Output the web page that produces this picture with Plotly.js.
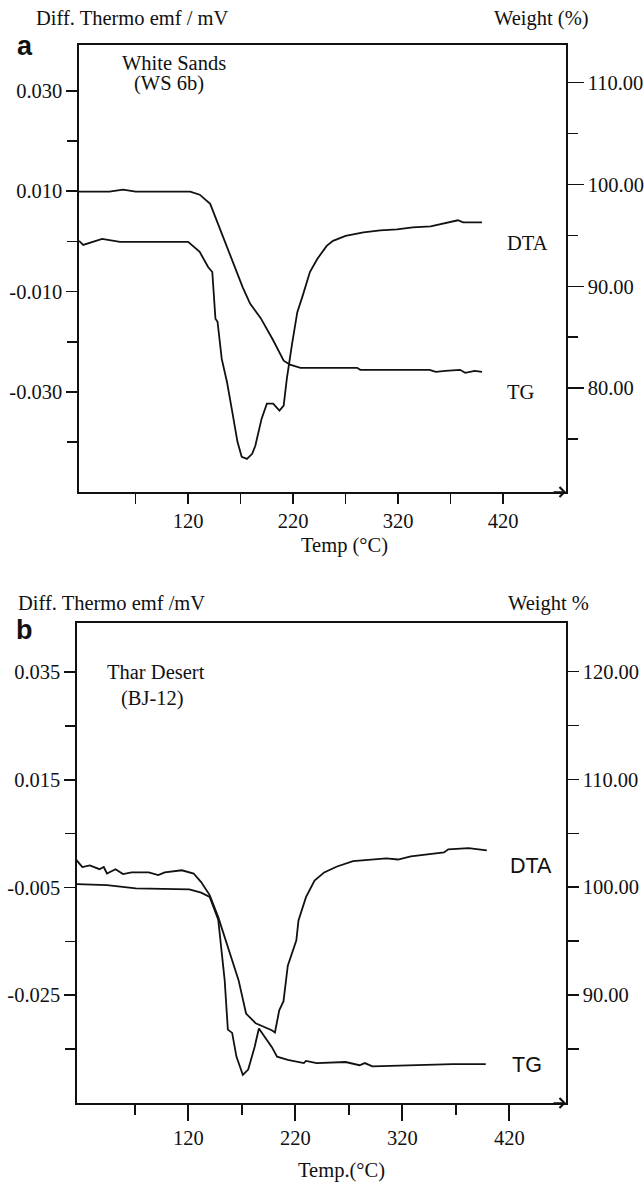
<!DOCTYPE html>
<html>
<head>
<meta charset="utf-8">
<script src="https://cdn.plot.ly/plotly-3.0.1.min.js"></script>
<style>
html,body{margin:0;padding:0;background:#fff;}
#chart{width:644px;height:1182px;}
</style>
</head>
<body>
<div id="chart"></div>
<script>
// ---------- Panel a : White Sands (WS 6b) ----------
var aDtaTemp = [16,20,38,55,120,131,139,143,146,148,152,157,162,167,171,176,181,184,190,195,201,207,211,214,219,224,229,236,243,252,258,270,287,303,319,334,351,367,377,382,400];
var aDta     = [0.0001,-0.0007,0.0005,-0.0001,-0.0001,-0.0021,-0.0051,-0.0061,-0.0154,-0.0160,-0.0234,-0.0280,-0.0339,-0.0399,-0.0429,-0.0433,-0.0423,-0.0407,-0.0353,-0.0323,-0.0323,-0.0337,-0.0327,-0.0274,-0.0204,-0.0141,-0.0109,-0.0061,-0.0035,-0.0009,0.0001,0.0011,0.0018,0.0022,0.0024,0.0028,0.0030,0.0038,0.0042,0.0038,0.0038];
var aTgTemp  = [16,45,58,70,122,131,141,146,153,163,172,179,189,201,211,217,227,281,284,350,356,365,379,384,393,400];
var aTg      = [99.3,99.3,99.5,99.3,99.3,99.0,98.1,96.8,94.8,92.2,89.9,88.3,86.9,84.7,82.7,82.3,82.0,82.0,81.8,81.8,81.6,81.7,81.8,81.5,81.7,81.6];

// ---------- Panel b : Thar Desert (BJ-12) ----------
var bDtaTemp = [15,21,28,37,41,44,52,59,67,83,92,98,114,125,132,140,148,159,167,174,183,198,201,205,209,213,221,223,230,238,247,259,274,305,316,328,359,363,382,399];
var bDta     = [0.0002,-0.0012,-0.0009,-0.0016,-0.0012,-0.0024,-0.0016,-0.0025,-0.0022,-0.0022,-0.0027,-0.0022,-0.0018,-0.0024,-0.0040,-0.0064,-0.0105,-0.0172,-0.0222,-0.0284,-0.0302,-0.0315,-0.0319,-0.0278,-0.0261,-0.0195,-0.0148,-0.0111,-0.0068,-0.0037,-0.0022,-0.0011,-0.0001,0.0004,0.0002,0.0008,0.0015,0.0021,0.0023,0.0019];
var bTgTemp  = [15,44,71,101,121,132,140,148,152,154,157,161,165,171,176,182,186,192,198,203,213,228,230,240,267,280,285,292,328,367,398];
var bTg      = [100.3,100.2,99.9,99.8,99.8,99.5,99.1,97.0,93.0,91.4,86.8,86.5,84.3,82.6,83.1,85.2,86.9,86.1,85.2,84.3,84.0,83.7,83.9,83.7,83.8,83.5,83.7,83.4,83.5,83.6,83.6];

// ---------- Tick labels ----------
var xTickVals = [120,220,320,420];
var xTickText = ['120','220','320','420'];
var xMinorVals = [70,170,270,370];

var aLeftVals = [0.03,0.01,-0.01,-0.03];
var aLeftText = ['0.030','0.010','-0.010','-0.030'];
var aLeftMinor = [0.02,0.0,-0.02,-0.04];
var aRightVals = [110,100,90,80];
var aRightText = ['110.00','100.00','90.00','80.00'];
var aRightMinor = [105,95,85,75];

var bLeftVals = [0.035,0.015,-0.005,-0.025];
var bLeftText = ['0.035','0.015','-0.005','-0.025'];
var bLeftMinor = [0.025,0.005,-0.015,-0.035];
var bRightVals = [120,110,100,90];
var bRightText = ['120.00','110.00','100.00','90.00'];
var bRightMinor = [115,105,95,85];

var SERIF = 'Liberation Serif, Times New Roman, serif';
var SANS = 'Liberation Sans, Arial, sans-serif';
var FS = 20.5;
var W = 644, H = 1182;
function px(x){return x/W;}
function py(y){return 1 - y/H;}

var lineStyle = {color:'#111', width:1.8};
var traces = [
  {x:aDtaTemp, y:aDta, xaxis:'x', yaxis:'y', mode:'lines', line:lineStyle, name:'DTA a'},
  {x:aTgTemp, y:aTg, xaxis:'x', yaxis:'y2', mode:'lines', line:lineStyle, name:'TG a'},
  {x:bDtaTemp, y:bDta, xaxis:'x2', yaxis:'y3', mode:'lines', line:lineStyle, name:'DTA b'},
  {x:bTgTemp, y:bTg, xaxis:'x2', yaxis:'y4', mode:'lines', line:lineStyle, name:'TG b'}
];

function xAx(domain, range, anchor, majLen, minLen){
  return {domain:domain, range:range, anchor:anchor, showline:true, linecolor:'#111', linewidth:1.6, mirror:true,
    ticks:'outside', ticklen:majLen, tickwidth:1.6, tickcolor:'#111', tickmode:'array', tickvals:xTickVals, ticktext:xTickText,
    minor:{tickmode:'array', tickvals:xMinorVals, ticks:'outside', ticklen:minLen, tickwidth:1.6, tickcolor:'#111', showgrid:false},
    showgrid:false, zeroline:false, tickfont:{family:SERIF, size:FS, color:'#111'}, fixedrange:true};
}
function yAx(domain, range, anchor, side, vals, text, minor, majLen, minLen, overlay){
  var o = {domain:domain, range:range, anchor:anchor, side:side, showline:true, linecolor:'#111', linewidth:1.6,
    ticks:'outside', ticklen:majLen, tickwidth:1.6, tickcolor:'#111', tickmode:'array', tickvals:vals, ticktext:text,
    minor:{tickmode:'array', tickvals:minor, ticks:'outside', ticklen:minLen, tickwidth:1.6, tickcolor:'#111', showgrid:false},
    showgrid:false, zeroline:false, tickfont:{family:SERIF, size:FS, color:'#111'}, fixedrange:true};
  if (overlay) { o.overlaying = overlay; delete o.domain; }
  return o;
}

function ann(text, x, y, opts){
  var a = {text:text, x:px(x), y:py(y), xref:'paper', yref:'paper', showarrow:false, xanchor:'left', yanchor:'middle',
    font:{family:SERIF, size:FS, color:'#111'}};
  for (var k in opts) a[k] = opts[k];
  return a;
}

var annotations = [
  ann('Diff. Thermo emf / mV', 34, 18),
  ann('Weight (%)', 591, 18, {xanchor:'right'}),
  ann('a', 25, 46, {xanchor:'center', font:{family:SANS, size:27, color:'#111', weight:'bold'}}),
  ann('White Sands', 120, 63),
  ann('(WS 6b)', 132, 84),
  ann('DTA', 505, 243),
  ann('TG', 505, 392),
  ann('Temp (°C)', 344, 545, {xanchor:'center'}),

  ann('Diff. Thermo emf /mV', 16, 603),
  ann('Weight %', 591, 603, {xanchor:'right'}),
  ann('b', 24, 630, {xanchor:'center', font:{family:SANS, size:27, color:'#111', weight:'bold'}}),
  ann('Thar Desert', 105, 672),
  ann('(BJ-12)', 119, 698),
  ann('DTA', 508, 866, {font:{family:SANS, size:21.5, color:'#111'}}),
  ann('TG', 510, 1065, {font:{family:SANS, size:21.5, color:'#111'}}),
  ann('Temp.(°C)', 341, 1170, {xanchor:'center'}),

  // axis arrows
  {x:1, y:0, xref:'x domain', yref:'y domain', ax:-14, ay:0, showarrow:true, arrowhead:4, arrowsize:1.2, arrowwidth:1.6, arrowcolor:'#111', text:''},
  {x:1, y:0, xref:'x2 domain', yref:'y3 domain', ax:-14, ay:0, showarrow:true, arrowhead:4, arrowsize:1.2, arrowwidth:1.6, arrowcolor:'#111', text:''}
];

var layout = {
  width:W, height:H, margin:{l:0, r:0, t:0, b:0, pad:0},
  paper_bgcolor:'#fff', plot_bgcolor:'#fff', showlegend:false,
  font:{family:SERIF, color:'#111'},
  xaxis: xAx([px(79), px(566)], [16, 480], 'y', 10, 10),
  yaxis: yAx([py(492), py(45)], [-0.0499, 0.0391], 'x', 'left', aLeftVals, aLeftText, aLeftMinor, 11, 10),
  yaxis2: yAx(null, [69.8, 113.7], 'x', 'right', aRightVals, aRightText, aRightMinor, 16, 10, 'y'),
  xaxis2: xAx([px(77), px(566)], [16, 473], 'y3', 16, 10),
  yaxis3: yAx([py(1103), py(623)], [-0.045, 0.0441], 'x2', 'left', bLeftVals, bLeftText, bLeftMinor, 11, 10),
  yaxis4: yAx(null, [80, 124.5], 'x2', 'right', bRightVals, bRightText, bRightMinor, 11, 11, 'y3'),
  annotations: annotations
};

Plotly.newPlot('chart', traces, layout, {staticPlot:true, displayModeBar:false});
</script>
</body>
</html>
